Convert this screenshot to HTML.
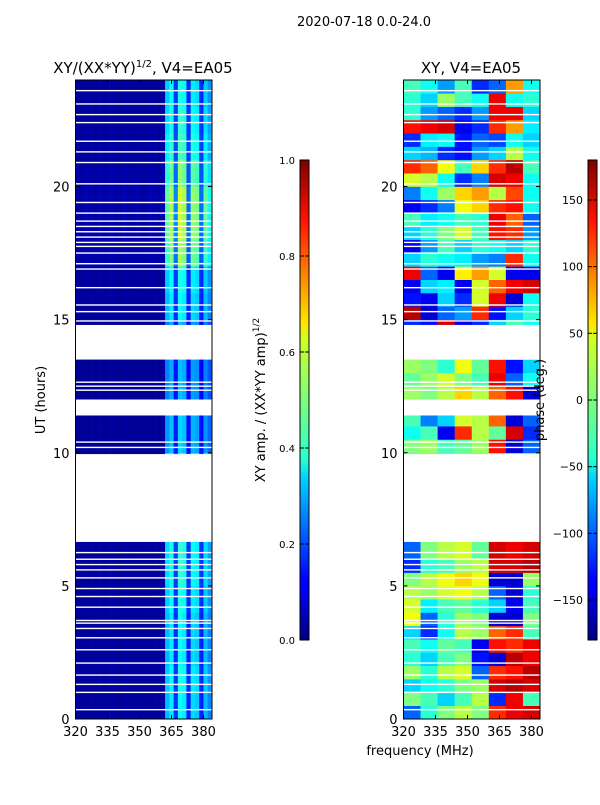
<!DOCTYPE html>
<html><head><meta charset="utf-8"><style>
body{margin:0;background:#fff;}
svg text{font-family:"DejaVu Sans","Liberation Sans",sans-serif;fill:#000;}
</style></head><body>
<svg id="fig" width="600" height="800" viewBox="0 0 600 800" xmlns="http://www.w3.org/2000/svg">
<defs>
<linearGradient id="jet" x1="0" y1="1" x2="0" y2="0">
<stop offset="0" stop-color="#00007f"/><stop offset="0.11" stop-color="#0000ff"/><stop offset="0.125" stop-color="#0000ff"/>
<stop offset="0.34" stop-color="#00d4ff"/><stop offset="0.375" stop-color="#29ffce"/><stop offset="0.5" stop-color="#7dff7a"/>
<stop offset="0.625" stop-color="#ceff29"/><stop offset="0.66" stop-color="#ffe600"/><stop offset="0.875" stop-color="#ff1300"/><stop offset="1" stop-color="#7f0000"/>
</linearGradient>
</defs>
<text x="364" y="26" font-size="13" text-anchor="middle">2020-07-18 0.0-24.0</text>
<text x="143" y="73" font-size="15" text-anchor="middle">XY/(XX*YY)<tspan font-size="10" dy="-6">1/2</tspan><tspan dy="6">, V4=EA05</tspan></text>
<text x="471" y="73" font-size="15" text-anchor="middle">XY, V4=EA05</text>
<g id="left"></g>
<g id="right"></g>
<g id="axes"></g>
<rect x="300" y="160" width="9" height="480" fill="url(#jet)" stroke="#000" stroke-width="1"/>
<rect x="588" y="160" width="9" height="480" fill="url(#jet)" stroke="#000" stroke-width="1"/>
<g id="cbticks"></g>
<text transform="translate(45,400) rotate(-90)" font-size="13" text-anchor="middle">UT (hours)</text>
<text transform="translate(265,400) rotate(-90)" font-size="13" text-anchor="middle">XY amp. / (XX*YY amp)<tspan font-size="9" dy="-6">1/2</tspan></text>
<text transform="translate(544,400) rotate(-90)" font-size="13" text-anchor="middle">phase (deg.)</text>
<text x="420" y="755" font-size="13" text-anchor="middle">frequency (MHz)</text>
</svg>
<script>
const freqTicks=[320,335,350,365,380];
const hourTicks=[0,5,10,15,20];
const ampTickLabels=["0.0","0.2","0.4","0.6","0.8","1.0"];
const phaseTicks=[-150,-100,-50,0,50,100,150];
const gapsH=[[6.65,9.95],[11.4,12.0],[13.5,14.8]];
const thinLinesH=[0.35,1.0,1.3,1.65,2.1,2.6,3.05,3.4,3.6,3.7,4.2,4.6,4.9,5.3,5.6,5.8,6.0,6.25,10.2,10.4,12.35,12.5,12.65,14.95,15.3,15.55,16.2,16.9,17.1,17.5,17.75,17.9,18.1,18.3,18.5,18.7,19.0,19.4,20.1,20.9,21.3,21.7,22.4,22.7,23.1,23.6];
const ampProfile=[0.03,0.03,0.04,0.03,0.03,0.04,0.03,0.03,0.04,0.03,0.03,0.04,0.03,0.03,0.04,0.03,0.03,0.04,0.03,0.03,0.04,0.36,0.42,0.2,0.45,0.42,0.18,0.4,0.38,0.18,0.36,0.3];
const ampHourScale=[0.85,0.9,0.85,0.85,0.9,0.95,0.95,1,1,1,0.75,0.75,0.7,0.7,0.7,0.85,0.9,1.2,1.3,1.3,1.15,1.0,0.95,0.9];
const phaseGrid=[
[-100,-30,0,20,0,120,140,150],[0,-20,-60,-20,20,-120,140,-20],[-60,-40,-30,0,10,150,160,150],[10,-30,20,30,-100,120,130,160],
[-30,-60,-20,0,-130,-150,160,140],[-20,-40,-10,-20,-140,130,120,140],[-60,-120,-40,20,10,100,120,-20],[40,-100,-30,10,0,-150,-150,0],
[30,-50,-20,-10,-30,-60,-140,-20],[20,10,30,40,20,-100,-150,-30],[0,20,40,60,40,-150,-150,10],[-120,-30,-20,10,20,150,150,160],
[-100,0,20,30,-10,150,140,150],[-100,0,20,30,-10,150,140,150],[0,0,0,0,0,0,0,0],[0,0,0,0,0,0,0,0],
[0,0,0,0,0,0,0,0],[0,0,0,0,0,0,0,0],[0,0,0,0,0,0,0,0],[0,0,0,0,0,0,0,0],
[0,10,-20,-10,10,130,-150,-100],[-40,-20,-140,120,20,-10,150,-120],[-20,-90,-60,30,20,100,-150,-100],[0,0,0,0,0,0,0,0],
[10,0,20,60,20,100,130,-150],[-10,10,30,0,-20,140,-100,-40],[10,0,-30,40,-10,130,-130,-60],[0,0,0,0,0,0,0,0],
[0,0,0,0,0,0,0,0],[-120,-130,150,-140,-120,-60,-20,-40],[160,-150,-100,-80,120,-130,-60,-30],[-130,-140,-60,-120,30,140,-150,-40],
[-140,-60,-50,-140,30,100,140,150],[140,-100,-140,50,80,30,-140,-140],[-60,-30,-40,-50,-80,-90,120,-40],[-140,-80,-20,-60,-30,-40,-60,-30],
[-60,-30,0,30,-20,130,120,-80],[-20,-50,-40,-20,-30,140,100,-100],[-140,-120,-90,40,60,120,130,-40],[-90,-40,10,60,80,20,110,-40],
[30,20,-40,-120,-90,150,140,-40],[120,100,40,-20,60,120,160,-20],[-60,-70,-120,-130,-80,-60,20,-40],[-120,-50,-40,-130,-100,-110,-40,-60],
[130,140,150,-140,-120,120,80,-50],[-30,-80,-100,-120,-80,140,140,-60],[-30,-60,10,-20,-40,140,-40,-30],[-20,-40,-80,-20,-120,-100,80,-40]];

const NS="http://www.w3.org/2000/svg";
const F0=320,F1=384,H0=0,H1=24;
const panels=[{x0:75.5,g:'left'},{x0:403.5,g:'right'}];
const pw=136.5, yTop=80, yBot=719;
function fx(p,f){return p.x0+(f-F0)/(F1-F0)*pw;}
function hy(h){return yBot-(h-H0)/(H1-H0)*(yBot-yTop);}
function jet(v){v=Math.max(0,Math.min(1,v));
 const r=Math.max(0,Math.min(1,1.5-Math.abs(4*v-3))),g=Math.max(0,Math.min(1,1.5-Math.abs(4*v-2))),b=Math.max(0,Math.min(1,1.5-Math.abs(4*v-1)));
 return `rgb(${Math.round(r*255)},${Math.round(g*255)},${Math.round(b*255)})`;}
function mk(tag,attrs,parent){const e=document.createElementNS(NS,tag);for(const k in attrs)e.setAttribute(k,attrs[k]);parent.appendChild(e);return e;}

const gl=document.getElementById('left');
const fbw=(F1-F0)/ampProfile.length;
for(let h=0;h<48;h++){for(let j=0;j<ampProfile.length;j++){
 const v=ampProfile[j]*ampHourScale[Math.floor(h/2)];
 const x=fx(panels[0],F0+j*fbw),x2=fx(panels[0],F0+(j+1)*fbw),y=hy((h+1)/2),y2=hy(h/2);
 const r=mk('rect',{x:x,y:y,width:x2-x+0.3,height:y2-y+0.3,fill:jet(v)},gl);
 
 
}}
const gr=document.getElementById('right');
const pbw=(F1-F0)/8;
for(let h=0;h<phaseGrid.length;h++){for(let j=0;j<8;j++){
 const v=(phaseGrid[h][j]+180)/360;
 const x=fx(panels[1],F0+j*pbw),x2=fx(panels[1],F0+(j+1)*pbw),y=hy((h+1)/2),y2=hy(h/2);
 const r=mk('rect',{x:x,y:y,width:x2-x+0.3,height:y2-y+0.3,fill:jet(v)},gr);
 
 
}}
const ax=document.getElementById('axes');
panels.forEach(p=>{
 gapsH.forEach(g=>{const r=mk('rect',{x:p.x0,y:hy(g[1]),width:pw,height:hy(g[0])-hy(g[1]),fill:'#fff'},ax);
  
  });
 thinLinesH.forEach(h=>{const r=mk('rect',{x:p.x0,y:hy(h)-0.7,width:pw,height:1.4,fill:'#fff'},ax);
  
  });
 const fr=mk('rect',{x:p.x0,y:yTop,width:pw,height:yBot-yTop,fill:'none',stroke:'#000','stroke-width':1},ax);
 
 
 freqTicks.forEach(f=>{const x=fx(p,f);
  mk('line',{x1:x,x2:x,y1:yBot,y2:yBot-4,stroke:'#000'},ax);mk('line',{x1:x,x2:x,y1:yTop,y2:yTop+4,stroke:'#000'},ax);
  const t=mk('text',{x:x,y:yBot+17,'font-size':13,'text-anchor':'middle'},ax);t.textContent=f;
  
  });
 hourTicks.forEach(h=>{const y=hy(h);
  mk('line',{x1:p.x0,x2:p.x0+4,y1:y,y2:y,stroke:'#000'},ax);mk('line',{x1:p.x0+pw,x2:p.x0+pw-4,y1:y,y2:y,stroke:'#000'},ax);
  const t=mk('text',{x:p.x0-6,y:y+5,'font-size':13,'text-anchor':'end'},ax);t.textContent=h;
  
  });
});
const cb=document.getElementById('cbticks');
ampTickLabels.forEach((l,i)=>{const y=640-i/(ampTickLabels.length-1)*480;
 mk('line',{x1:300,x2:304,y1:y,y2:y,stroke:'#000'},cb);mk('line',{x1:309,x2:305,y1:y,y2:y,stroke:'#000'},cb);
 const t=mk('text',{x:295,y:y+4,'font-size':10,'text-anchor':'end'},cb);t.textContent=l;
 
 });
phaseTicks.forEach(v=>{const y=640-(v+180)/360*480;
 mk('line',{x1:588,x2:592,y1:y,y2:y,stroke:'#000'},cb);mk('line',{x1:597,x2:593,y1:y,y2:y,stroke:'#000'},cb);
 const t=mk('text',{x:583,y:y+4,'font-size':11,'text-anchor':'end'},cb);t.textContent=v<0?'\u2212'+Math.abs(v):v;
 
 });
</script>
</body></html>
